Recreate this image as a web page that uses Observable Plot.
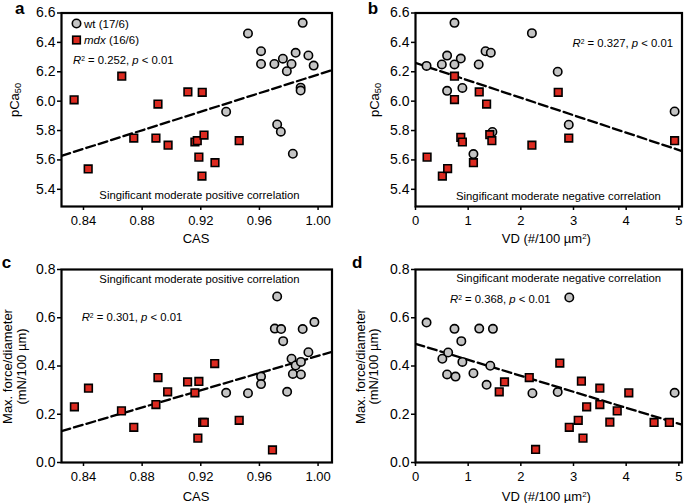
<!DOCTYPE html>
<html><head><meta charset="utf-8">
<script src="https://cdn.jsdelivr.net/npm/d3@7"></script>
<script src="https://cdn.jsdelivr.net/npm/@observablehq/plot@0.6"></script>
<style>
body{margin:0;background:#fff;}
#root{position:relative;width:685px;height:503px;overflow:hidden;font-family:"Liberation Sans",Arial,Helvetica,sans-serif;}
#root svg{position:absolute;overflow:visible;}
</style></head><body><div id="root"></div>
<script>
// ---- tick labels ----
const casTicks = [0.84, 0.88, 0.92, 0.96, 1.00];
const vdTicks = [0, 1, 2, 3, 4, 5];
const pcaTicks = [5.4, 5.6, 5.8, 6.0, 6.2, 6.4, 6.6];
const forceTicks = [0, 0.2, 0.4, 0.6, 0.8];

// ---- panel a: CAS vs pCa50 ----
const aWtCas = [0.9895,0.9522,0.9611,0.9611,0.9702,0.9760,0.9819,0.9787,0.9847,0.9934,0.9970,0.9881,0.9881,0.9373,0.9721,0.9746,0.9828];
const aWtPca = [6.533,6.461,6.340,6.253,6.253,6.289,6.253,6.204,6.329,6.311,6.242,6.092,6.072,5.928,5.841,5.792,5.642];
const aMdxCas = [0.8336,0.8432,0.8661,0.8743,0.8894,0.8908,0.8977,0.9112,0.9210,0.9160,0.9176,0.9187,0.9222,0.9208,0.9297,0.9462];
const aMdxPca = [6.009,5.539,6.170,5.749,5.749,5.980,5.700,6.063,6.060,5.722,5.731,5.619,5.769,5.490,5.581,5.731];

// ---- panel b: VD vs pCa50 ----
const bWtVd = [0.74,2.21,1.33,1.43,0.60,0.86,0.21,0.50,0.74,1.20,2.70,0.60,0.89,4.92,2.91,1.46,1.10];
const bWtPca = [6.533,6.463,6.34,6.33,6.31,6.29,6.24,6.25,6.25,6.25,6.20,6.07,6.09,5.93,5.84,5.79,5.64];
const bMdxVd = [0.22,0.51,0.61,0.74,0.74,0.86,0.89,1.10,1.21,1.35,1.41,1.45,2.21,2.71,2.91,4.92];
const bMdxPca = [5.619,5.490,5.541,6.170,6.011,5.754,5.722,5.581,6.063,5.980,5.772,5.731,5.700,6.060,5.749,5.731];

// ---- panel c: CAS vs max force/diameter ----
const cWtCas = [0.9721,0.9705,0.9748,0.9762,0.9895,0.9975,0.9934,0.9819,0.9847,0.9828,0.9883,0.9883,0.9789,0.9611,0.9611,0.9373,0.9522];
const cWtForce = [0.688,0.555,0.553,0.503,0.553,0.582,0.457,0.430,0.402,0.367,0.417,0.365,0.293,0.356,0.325,0.289,0.287];
const cMdxCas = [0.8338,0.8434,0.8659,0.8743,0.8894,0.8908,0.8974,0.9110,0.9187,0.9160,0.9180,0.9213,0.9224,0.9295,0.9462,0.9689];
const cMdxForce = [0.231,0.308,0.214,0.146,0.240,0.352,0.293,0.334,0.336,0.289,0.101,0.166,0.166,0.410,0.175,0.052];

// ---- panel d: VD vs max force/diameter ----
const dWtVd = [0.21,0.51,0.62,0.60,0.74,0.76,0.87,0.89,1.10,1.21,1.47,1.42,1.35,2.22,2.70,2.92,4.92];
const dWtForce = [0.580,0.430,0.456,0.365,0.554,0.356,0.503,0.417,0.370,0.555,0.554,0.401,0.322,0.287,0.292,0.684,0.289];
const dMdxVd = [1.59,1.69,2.16,2.28,2.74,2.92,3.09,3.15,3.18,3.25,3.50,3.50,3.69,3.83,4.05,4.53,4.82];
const dMdxForce = [0.293,0.334,0.352,0.054,0.412,0.146,0.175,0.337,0.101,0.231,0.308,0.240,0.167,0.214,0.289,0.166,0.166];

// ---- linear fits (panels a, b, c, d) ----
const fitIntercept = [3.021, 6.26, -1.340, 0.492];
const fitSlope = [3.16, -0.1186, 1.782, -0.0663];
const fitR2 = ["0.252", "0.327", "0.301", "0.368"];

// ---- legend ----
const groupNames = ["wt", "mdx"];
const groupCounts = ["(17/6)", "(16/6)"];

const GRAY = "#c4c4c4", RED = "#dc2a20";
const FONT = '"Liberation Sans", Arial, Helvetica, sans-serif';

function pts(xs, ys) { return xs.map((x, i) => ({x, y: ys[i]})); }

function panel(cfg) {
  const fit = cfg.xDomain.map(x => ({x, y: fitIntercept[cfg.i] + fitSlope[cfg.i] * x}));
  const svg = Plot.plot({
    width: cfg.width, height: cfg.height,
    marginLeft: cfg.m[0], marginRight: cfg.m[1], marginTop: cfg.m[2], marginBottom: cfg.m[3],
    style: {fontFamily: FONT, background: "transparent", color: "black", overflow: "visible"},
    x: {domain: cfg.xDomain},
    y: {domain: cfg.yDomain},
    marks: [
      Plot.axisX({ticks: cfg.xTicks, tickFormat: cfg.xFmt, tickSize: 4, tickPadding: 5, fontSize: 13, strokeWidth: 1.5, label: null}),
      Plot.axisY({ticks: cfg.yTicks, tickFormat: d => d.toFixed(1), tickSize: 4, tickPadding: 2, fontSize: 14, strokeWidth: 1.5, label: null}),
      Plot.line(fit, {x: "x", y: "y", stroke: "black", strokeWidth: 2.3, strokeDasharray: "9,4", clip: true}),
      Plot.dot(pts(cfg.wtX, cfg.wtY), {x: "x", y: "y", r: 4.2, fill: GRAY, stroke: "black", strokeWidth: 1.6}),
      Plot.dot(pts(cfg.mdxX, cfg.mdxY), {x: "x", y: "y", symbol: "square", r: 4.3, fill: RED, stroke: "black", strokeWidth: 1.6}),
      Plot.frame({stroke: "black", strokeWidth: 2.2})
    ]
  });
  svg.style.left = cfg.left + "px";
  svg.style.top = cfg.top + "px";
  document.getElementById("root").appendChild(svg);
  return d3.select(svg);
}

// parts: array of [text, kind] where kind: "i" italic, "sub", "sup"
function txt(sel, x, y, parts, opt = {}) {
  const t = sel.append("text").attr("x", x).attr("y", y)
    .attr("font-family", FONT).attr("font-size", opt.size || 11.3)
    .attr("text-anchor", opt.anchor || "start").attr("fill", "black");
  if (opt.rotate) t.attr("transform", `rotate(-90,${x},${y})`);
  if (opt.bold) t.attr("font-weight", "bold");
  for (const [s, k] of parts) {
    const ts = t.append("tspan").text(s);
    if (k === "i") ts.attr("font-style", "italic");
    if (k === "sub") ts.attr("baseline-shift", "-25%").attr("font-size", "70%");
    if (k === "sup") ts.attr("baseline-shift", "super").attr("font-size", "60%");
  }
  return t;
}
function r2parts(i) { return [["R", "i"], ["2", "sup"], [" = " + fitR2[i] + ", ", null], ["p", "i"], [" < 0.01", null]]; }

const casFmt = d => d.toFixed(2);
const vdFmt = d => String(d);

// Panel a
const A = panel({i: 0, left: 0, top: 0, width: 342, height: 250, m: [61, 10.5, 12.5, 44],
  xDomain: [0.825, 1.0095], yDomain: [5.283, 6.6], xTicks: casTicks, yTicks: pcaTicks, xFmt: casFmt,
  wtX: aWtCas, wtY: aWtPca, mdxX: aMdxCas, mdxY: aMdxPca});
txt(A, 15, 14, [["a", null]], {size: 17, bold: true});
A.append("circle").attr("cx", 76.5).attr("cy", 23.5).attr("r", 4.2).attr("fill", GRAY).attr("stroke", "black").attr("stroke-width", 1.6);
A.append("rect").attr("x", 72.7).attr("y", 36.2).attr("width", 7.6).attr("height", 7.6).attr("fill", RED).attr("stroke", "black").attr("stroke-width", 1.6);
txt(A, 84, 27.5, [[groupNames[0] + " " + groupCounts[0], null]], {size: 11.5});
txt(A, 84, 44, [[groupNames[1], "i"], [" " + groupCounts[1], null]], {size: 11.5});
txt(A, 73, 64, r2parts(0));
txt(A, 199.5, 199, [["Singificant moderate positive correlation", null]], {anchor: "middle"});
txt(A, 196, 243, [["CAS", null]], {size: 13, anchor: "middle"});
txt(A, 19, 100, [["pCa", null], ["50", "sub"]], {size: 13, anchor: "middle", rotate: true});

// Panel b
const B = panel({i: 1, left: 342, top: 0, width: 343, height: 250, m: [73, 3.5, 12.5, 44],
  xDomain: [0, 5.06], yDomain: [5.283, 6.6], xTicks: vdTicks, yTicks: pcaTicks, xFmt: vdFmt,
  wtX: bWtVd, wtY: bWtPca, mdxX: bMdxVd, mdxY: bMdxPca});
txt(B, 25.7, 14, [["b", null]], {size: 17, bold: true});
txt(B, 331, 47, r2parts(1), {anchor: "end"});
txt(B, 216.4, 200, [["Singificant moderate negative correlation", null]], {anchor: "middle"});
txt(B, 204.3, 243, [["VD (#/100 µm", null], ["2", "sup"], [")", null]], {size: 13, anchor: "middle"});
txt(B, 36.5, 100, [["pCa", null], ["50", "sub"]], {size: 13, anchor: "middle", rotate: true});

// Panel c
const C = panel({i: 2, left: 0, top: 250, width: 342, height: 253, m: [61, 10.5, 19, 41],
  xDomain: [0.825, 1.0095], yDomain: [0, 0.8], xTicks: casTicks, yTicks: forceTicks, xFmt: casFmt,
  wtX: cWtCas, wtY: cWtForce, mdxX: cMdxCas, mdxY: cMdxForce});
txt(C, 1.7, 18, [["c", null]], {size: 17, bold: true});
txt(C, 199.5, 33, [["Singificant moderate positive correlation", null]], {anchor: "middle"});
txt(C, 81.7, 71, r2parts(2));
txt(C, 196, 251, [["CAS", null]], {size: 13, anchor: "middle"});
txt(C, 11.5, 116.5, [["Max. force/diameter", null]], {size: 13, anchor: "middle", rotate: true});
txt(C, 26, 116.5, [["(mN/100 µm)", null]], {size: 13, anchor: "middle", rotate: true});

// Panel d
const D = panel({i: 3, left: 342, top: 250, width: 343, height: 253, m: [73, 3.5, 19, 41],
  xDomain: [0, 5.06], yDomain: [0, 0.8], xTicks: vdTicks, yTicks: forceTicks, xFmt: vdFmt,
  wtX: dWtVd, wtY: dWtForce, mdxX: dMdxVd, mdxY: dMdxForce});
txt(D, 10, 18, [["d", null]], {size: 17, bold: true});
txt(D, 216.7, 32, [["Singificant moderate negative correlation", null]], {anchor: "middle"});
txt(D, 108, 53, r2parts(3));
txt(D, 204.3, 251, [["VD (#/100 µm", null], ["2", "sup"], [")", null]], {size: 13, anchor: "middle"});
txt(D, 22.5, 116.5, [["Max. force/diameter", null]], {size: 13, anchor: "middle", rotate: true});
txt(D, 36, 116.5, [["(mN/100 µm)", null]], {size: 13, anchor: "middle", rotate: true});
</script></body></html>
